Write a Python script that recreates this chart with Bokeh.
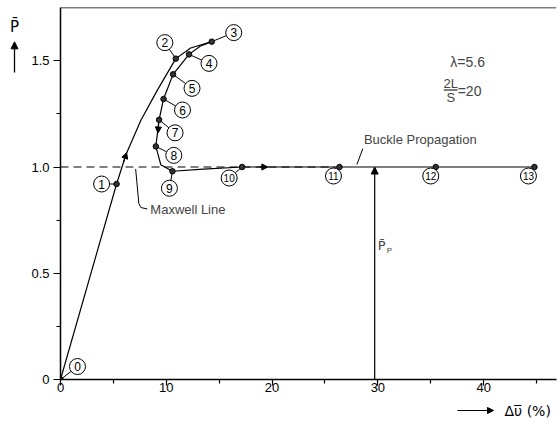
import math
from bokeh.plotting import figure
from bokeh.layouts import row, column
from bokeh.models import (Range1d, FixedTicker, Span, Label, Arrow, NormalHead,
                          ColumnDataSource)
from bokeh.embed import file_html
from bokeh.resources import INLINE
from bokeh.core.properties import value

# ---------------- data ----------------
point_labels = [str(i) for i in range(14)]
point_x = [0.0, 5.3, 10.9, 14.3, 12.15, 10.64, 9.74, 9.32, 9.01, 10.58, 17.17, 26.37, 35.47, 44.8]
point_y = [0.0, 0.92, 1.51, 1.59, 1.53, 1.436, 1.32, 1.222, 1.097, 0.98, 1.0, 1.0, 1.0, 1.0]

load_x = [0.0, 5.3, 6.2, 7.6, 9.17, 10.9, 12.3, 14.3]
load_y = [0.0, 0.92, 1.06, 1.22, 1.363, 1.51, 1.56, 1.59]
unload_x = [14.3, 13.2, 12.15, 10.64, 9.74, 9.32, 9.01, 9.48, 10.58, 13.5, 17.17, 26.37, 35.47, 44.8]
unload_y = [1.59, 1.568, 1.53, 1.436, 1.32, 1.222, 1.097, 1.011, 0.98, 0.99, 1.0, 1.0, 1.0, 1.0]

maxwell_load = 1.0
maxwell_x = [0.0, 26.0]
propagation_x = 29.7

x_ticks = [0, 10, 20, 30, 40]
x_minor = [5, 15, 25, 35, 45]
y_ticks = [0, 0.5, 1.0, 1.5]
y_minor = [0.25, 0.75, 1.25]
y_tick_labels = ["0", "0.5", "1.0", "1.5"]

# ---------------- layout / style ----------------
TOTAL_W, TOTAL_H = 559, 425
SW = 28                       # left strip holding the P axis label
BH = 24                       # bottom strip holding the x axis label
MW = TOTAL_W - SW
MH = TOTAL_H - BH
BL, BR, BT, BB = 59 - SW, 3, 7, MH - 379
FW, FH = MW - BL - BR, MH - BT - BB
X0, X1 = 0.0, FW / 10.6
Y0, Y1 = 0.0, FH / 212.5
SX = FW / (X1 - X0)
SY = FH / (Y1 - Y0)
FONT = "Liberation Sans"
FONT2 = "DejaVu Sans"
FRAME_LEFT_PX, FRAME_BOTTOM_PX = 59.0, 379.0

# label-circle offsets from each point, pixels (dx right, dy down)
label_offsets = [(17, -13), (-15, 0), (-11, -16), (22, -9), (20, 9), (19, 14), (19, 11),
                 (16, 13), (18, 9), (-3, 17), (-13, 11), (-6, 9), (-5, 9), (-6, 9)]
R = 8

p = figure(width=MW, height=MH, x_range=Range1d(X0, X1), y_range=Range1d(Y0, Y1),
           output_backend="svg", toolbar_location=None,
           min_border_left=BL, min_border_right=BR, min_border_top=BT, min_border_bottom=BB)
p.outline_line_color = None
p.grid.visible = False
p.background_fill_color = "white"
p.border_fill_color = "white"

for ax in (p.xaxis[0], p.yaxis[0]):
    ax.axis_line_width = 1.5
    ax.axis_line_color = "black"
    ax.major_tick_line_color = "black"
    ax.minor_tick_line_color = "black"
    ax.major_tick_line_width = 1.2
    ax.minor_tick_line_width = 1.2
    ax.major_tick_in = 0
    ax.minor_tick_in = 0
    ax.minor_tick_out = 4
    ax.major_label_text_font = FONT
    ax.major_label_text_font_size = "13px"
    ax.major_label_text_color = "black"

p.xaxis.ticker = FixedTicker(ticks=x_ticks, minor_ticks=x_minor)
p.xaxis.major_tick_out = 6
p.xaxis.major_label_standoff = -3
p.yaxis.ticker = FixedTicker(ticks=y_ticks, minor_ticks=y_minor)
p.yaxis.major_tick_out = 7
p.yaxis.major_label_standoff = 4
p.yaxis.major_label_overrides = {t: s for t, s in zip(y_ticks, y_tick_labels)}

# top frame line
p.add_layout(Span(location=Y1, dimension="width", line_color="black", line_width=1.5))

# Maxwell line (dashed)
p.line(maxwell_x, [maxwell_load] * len(maxwell_x), line_color="black", line_width=1, line_dash="8 5")

# curves
p.line(load_x, load_y, line_color="black", line_width=1.2)
p.line(unload_x, unload_y, line_color="black", line_width=1.2)

# direction arrowheads on the curves
for (xs, ys, xe, ye) in [(5.95, 1.022, 6.25, 1.068), (9.27, 1.205, 9.22, 1.16), (18.8, 1.0, 19.6, 1.0)]:
    p.add_layout(Arrow(end=NormalHead(size=6, fill_color="black", line_color="black"),
                       x_start=xs, y_start=ys, x_end=xe, y_end=ye, line_width=1.2, line_color="black"))

# P_p vertical arrow
p.add_layout(Arrow(end=NormalHead(size=7, fill_color="black", line_color="black"),
                   x_start=propagation_x, y_start=0, x_end=propagation_x, y_end=maxwell_load,
                   line_width=1.2, line_color="black"))

# leader lines and label circles
cx, cy, fs = [], [], []
lx0, ly0, lx1, ly1 = [], [], [], []
for x, y, (dx, dy), lab in zip(point_x, point_y, label_offsets, point_labels):
    cx.append(x + dx / SX)
    cy.append(y - dy / SY)
    fs.append("12px" if len(lab) == 1 else "10px")
    L = math.hypot(dx, dy)
    if L > R:
        f = (L - R) / L
        lx0.append(x); ly0.append(y)
        lx1.append(x + dx * f / SX); ly1.append(y - dy * f / SY)
p.segment(lx0, ly0, lx1, ly1, line_color="black", line_width=1)

p.scatter(point_x, point_y, size=5.5, fill_color="#333333", line_color="black", line_width=1)

src = ColumnDataSource(dict(x=cx, y=cy, t=point_labels, fs=fs))
p.scatter("x", "y", source=src, size=2 * R, fill_color="white", line_color="black", line_width=1)
p.text("x", "y", text="t", source=src, text_align="center", text_baseline="middle",
       text_font=value(FONT), text_font_size="fs", text_color="black")

# ---------------- annotations (positions in reference pixels) ----------------
def px2x(px):
    return X0 + (px - FRAME_LEFT_PX) / SX

def py2y(py):
    return Y0 + (FRAME_BOTTOM_PX - py) / SY

# parameters
p.add_layout(Label(x=px2x(467), y=py2y(61), text="\u03bb=5.6", text_font=FONT,
                   text_font_size="14px", text_align="center", text_baseline="middle"))
p.add_layout(Label(x=px2x(450), y=py2y(83), text="2L", text_font=FONT,
                   text_font_size="13px", text_align="center", text_baseline="middle"))
p.add_layout(Label(x=px2x(450), y=py2y(96.5), text="S", text_font=FONT,
                   text_font_size="13px", text_align="center", text_baseline="middle"))
p.segment([px2x(443)], [py2y(89.5)], [px2x(457)], [py2y(89.5)], line_color="black", line_width=1)
p.add_layout(Label(x=px2x(457), y=py2y(90.5), text="=20", text_font=FONT,
                   text_font_size="14px", text_align="left", text_baseline="middle"))

# Buckle Propagation
p.add_layout(Label(x=px2x(363), y=py2y(139), text="Buckle Propagation", text_font=FONT,
                   text_font_size="13px", text_align="left", text_baseline="middle"))
p.segment([px2x(362)], [py2y(148)], [px2x(356)], [py2y(164)], line_color="black", line_width=1)

# Maxwell Line
p.add_layout(Label(x=px2x(149), y=py2y(208.5), text="Maxwell Line", text_font=FONT,
                   text_font_size="13px", text_align="left", text_baseline="middle"))
p.line([px2x(134.3), px2x(137.5), px2x(139.5), px2x(146)],
       [py2y(168.5), py2y(203), py2y(207), py2y(208.5)], line_color="black", line_width=1)

# P_p label
p.add_layout(Label(x=px2x(377), y=py2y(245), text="P\u0304", text_font=FONT2,
                   text_font_size="13px", text_align="left", text_baseline="middle"))
p.add_layout(Label(x=px2x(386), y=py2y(250), text="P", text_font=FONT,
                   text_font_size="8px", text_align="left", text_baseline="middle"))

# ---------------- left strip: y axis label with upward arrow ----------------
s = figure(width=SW, height=MH, x_range=Range1d(0, SW), y_range=Range1d(MH, 0),
           output_backend="svg", toolbar_location=None, min_border=0,
           x_axis_location=None, y_axis_location=None)
s.outline_line_color = None
s.grid.visible = False
s.text([14], [21], text=["P\u0304"], text_font=value(FONT2), text_font_size="15px",
       text_align="center", text_baseline="middle", text_color="black")
s.add_layout(Arrow(end=NormalHead(size=7, fill_color="black", line_color="black"),
                   x_start=14, y_start=70, x_end=14, y_end=37, line_width=1.3, line_color="black"))

# ---------------- bottom strip: x axis label with right arrow ----------------
b = figure(width=TOTAL_W, height=BH, x_range=Range1d(0, TOTAL_W), y_range=Range1d(TOTAL_H, MH),
           output_backend="svg", toolbar_location=None, min_border=0,
           x_axis_location=None, y_axis_location=None)
b.outline_line_color = None
b.grid.visible = False
b.add_layout(Arrow(end=NormalHead(size=6, fill_color="black", line_color="black"),
                   x_start=457, y_start=410, x_end=493, y_end=410, line_width=1, line_color="black"))
b.text([504], [410], text=["\u0394\u03c5\u0305 (%)"], text_font=value(FONT2), text_font_size="14px",
       text_align="left", text_baseline="middle", text_color="black")

layout = column(row(s, p), b)
open("out.html", "w").write(file_html(layout, INLINE))
